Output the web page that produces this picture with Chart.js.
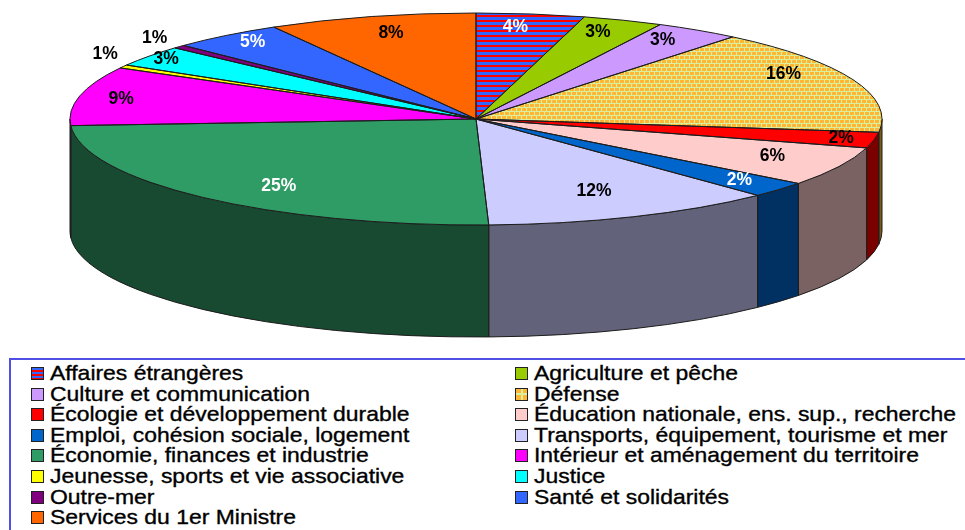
<!DOCTYPE html>
<html lang="fr">
<head>
<meta charset="utf-8">
<title>Budget par ministère</title>
<script src="https://cdn.jsdelivr.net/npm/chart.js@4"></script>
<style>
  html, body { margin: 0; padding: 0; background: #fff; overflow: hidden; }
  #wrap { position: relative; width: 965px; height: 530px; overflow: hidden; }
  #pie { position: absolute; left: 0; top: 0; }
  #legend {
    position: absolute; left: 9px; top: 358px; width: 1000px; height: 200px;
    box-sizing: border-box; border: 2px solid #4f4fe6; background: #fff;
    font: 21px "Liberation Sans", Arial, sans-serif; color: #000;
    -webkit-text-stroke: 0.35px #000;
  }
  .item { position: absolute; height: 20px; line-height: 20px; white-space: nowrap; }
  .name { display: inline-block; transform: scaleX(1.092); transform-origin: left center; }
  .swatch {
    position: absolute; left: -19px; top: 4px; width: 11px; height: 11px;
    border: 1px solid #222;
  }
</style>
</head>
<body>
<div id="wrap">
  <canvas id="pie" width="965" height="530"></canvas>
  <div id="legend"></div>
</div>
<script>
const categories = [
  "Affaires étrangères", "Agriculture et pêche", "Culture et communication", "Défense",
  "Écologie et développement durable", "Éducation nationale, ens. sup., recherche",
  "Emploi, cohésion sociale, logement", "Transports, équipement, tourisme et mer",
  "Économie, finances et industrie", "Intérieur et aménagement du territoire",
  "Jeunesse, sports et vie associative", "Justice", "Outre-mer",
  "Santé et solidarités", "Services du 1er Ministre"
];
const values = [4.3, 3.2, 3.4, 16.1, 2.4, 6, 2.4, 11.7, 24.5, 9, 0.5, 3.2, 0.5, 4.5, 8.3];
const percentLabels = ["4%", "3%", "3%", "16%", "2%", "6%", "2%", "12%", "25%", "9%", "1%", "3%", "1%", "5%", "8%"];
const colors = [
  "#3366FF", "#99CC00", "#CC99FF", "#FFB733", "#FF0000", "#FFCCCC", "#0066CC", "#CCCCFF",
  "#2F9B65", "#FF00FF", "#FFFF00", "#00FFFF", "#800080", "#3366FF", "#FF6600"
];
const whiteLabels = ["4%", "25%", "5%"];

// ellipse of the pie top on the page, and height of its side
const cx = 476, cy = 119, rx = 406, ry = 106, depth = 112;
const baseRadius = 200;
const sx = rx / baseRadius, sy = ry / baseRadius;

// label position tweaks, in pixels from the default spot on each slice
const labelNudge = [
  [-7, -3], [-3, -3], [-2, -3], [-13, -11], [27, 1], [-12, -3], [6, 1], [-16, -11],
  [35, 1], [-18, 0], [-71, -20], [-32, -6], [-69, -19], [-11, -6], [4, 1]
];

function tile(w, h, paint) {
  const c = document.createElement("canvas");
  c.width = w;
  c.height = h;
  paint(c.getContext("2d"));
  return c;
}

const stripeTile = tile(4, 5, (g) => {
  g.fillStyle = "#3366FF";
  g.fillRect(0, 0, 4, 5);
  g.fillStyle = "#FF0000";
  g.fillRect(0, 0, 4, 2);
});
// brick layout, every other row shifted
const dotTile = tile(10, 8, (g) => {
  g.fillStyle = "#D8F0A0";
  g.fillRect(0, 0, 10, 8);
  g.fillStyle = "#FFB733";
  g.fillRect(0, 0, 4, 3);
  g.fillRect(5, 0, 4, 3);
  g.fillRect(2, 4, 4, 3);
  g.fillRect(7, 4, 3, 3);
  g.fillRect(0, 4, 1, 3);
});

function screenPattern(ctx, t) {
  // the top is drawn squashed, so undo that whole transform on the pattern
  // or the tiles land on fractional pixels and go blurry
  const p = ctx.createPattern(t, "repeat");
  const m = new DOMMatrix()
    .translate(ctx.canvas.width / 2, ctx.canvas.height / 2)
    .scale(1 / sx, 1 / sy)
    .translate(-cx, -cy);
  p.setTransform(m);
  return p;
}

function shade(hex) {
  const n = parseInt(hex.slice(1), 16);
  const f = 0.48;
  return `rgb(${((n >> 16) & 255) * f}, ${((n >> 8) & 255) * f}, ${(n & 255) * f})`;
}

const pie3d = {
  id: "pie3d",
  beforeDatasetsDraw(chart) {
    const ctx = chart.ctx;
    const arcs = chart.getDatasetMeta(0).data;
    // side wall, only the front half of the ellipse shows
    arcs.forEach((arc, i) => {
      const a = Math.max(arc.startAngle, 0);
      const b = Math.min(arc.endAngle, Math.PI);
      if (b <= a) return;
      ctx.beginPath();
      ctx.ellipse(cx, cy, rx, ry, 0, a, b);
      ctx.ellipse(cx, cy + depth, rx, ry, 0, b, a, true);
      ctx.closePath();
      ctx.fillStyle = shade(colors[i]);
      ctx.fill();
      ctx.lineWidth = 1;
      ctx.strokeStyle = "#1c1c1c";
      ctx.stroke();
    });
    ctx.save();
    ctx.translate(cx, cy);
    ctx.scale(sx, sy);
    ctx.translate(-arcs[0].x, -arcs[0].y);
  },
  afterDatasetsDraw(chart) {
    const ctx = chart.ctx;
    ctx.restore();
    const arcs = chart.getDatasetMeta(0).data;
    ctx.lineWidth = 1;
    ctx.strokeStyle = "#1c1c1c";
    arcs.forEach((arc) => {
      ctx.beginPath();
      ctx.moveTo(cx, cy);
      ctx.ellipse(cx, cy, rx, ry, 0, arc.startAngle, arc.endAngle);
      ctx.closePath();
      ctx.stroke();
    });
    ctx.font = 'bold 17.5px "Liberation Sans", Arial, sans-serif';
    ctx.textAlign = "center";
    ctx.textBaseline = "middle";
    arcs.forEach((arc, i) => {
      const mid = (arc.startAngle + arc.endAngle) / 2;
      const x = cx + 0.85 * rx * Math.cos(mid) + labelNudge[i][0];
      const y = cy + 0.85 * ry * Math.sin(mid) + labelNudge[i][1];
      const white = whiteLabels.includes(percentLabels[i]) || i === 6;
      ctx.fillStyle = white ? "#fff" : "#000";
      ctx.fillText(percentLabels[i], x, y);
    });
  }
};

const ctx = document.querySelector("#pie").getContext("2d");
const fills = colors.slice();
fills[0] = screenPattern(ctx, stripeTile);
fills[3] = screenPattern(ctx, dotTile);

new Chart(ctx, {
  type: "pie",
  data: {
    labels: categories,
    datasets: [{
      data: values,
      backgroundColor: fills,
      borderWidth: 0,
      clip: false,
    }],
  },
  options: {
    responsive: false,
    animation: false,
    radius: baseRadius,
    plugins: { legend: { display: false }, tooltip: { enabled: false } },
  },
  plugins: [pie3d],
});

// legend in two columns, filled left then right
const legendEl = document.querySelector("#legend");
categories.forEach((name, i) => {
  const item = document.createElement("div");
  item.className = "item";
  const row = Math.floor(i / 2);
  item.style.left = (i % 2 ? 523 : 39) + "px";
  item.style.top = 3 + row * 20.6 + "px";
  const box = document.createElement("span");
  box.className = "swatch";
  box.style.background = colors[i];
  if (i === 0) box.style.background = "repeating-linear-gradient(#3366FF 0 2px, #FF0000 2px 4px)";
  if (i === 3) {
    box.style.background = "linear-gradient(#D8F0A0 0 0) center/100% 2px no-repeat, linear-gradient(#D8F0A0 0 0) center/2px 100% no-repeat, #FFB733";
  }
  const label = document.createElement("span");
  label.className = "name";
  label.textContent = name;
  item.append(box, label);
  legendEl.append(item);
});
</script>
</body>
</html>
